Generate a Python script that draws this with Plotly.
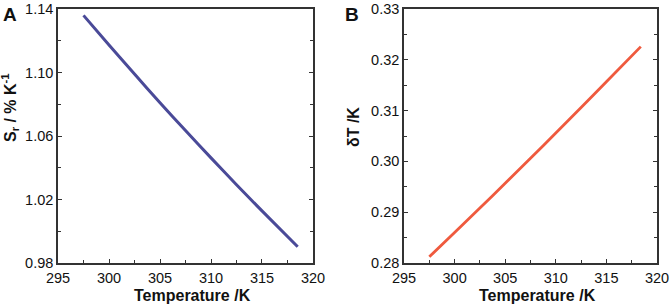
import plotly.graph_objects as go

temp_a = [297.5, 300.0, 302.5, 305.0, 307.5, 310.0, 312.5, 315.0, 318.5]
sr_vals = [1.136, 1.1173, 1.0990, 1.0810, 1.0634, 1.0462, 1.0293, 1.0128, 0.9902]

temp_b = [297.5, 300.0, 302.5, 305.0, 307.5, 310.0, 312.5, 315.0, 318.4]
dt_vals = [0.2812, 0.2860, 0.2908, 0.2957, 0.3006, 0.3056, 0.3106, 0.3157, 0.3226]

x_ticks = [295, 300, 305, 310, 315, 320]
ya_ticks = [0.98, 1.02, 1.06, 1.10, 1.14]
yb_ticks = [0.28, 0.29, 0.30, 0.31, 0.32, 0.33]

W, H = 671, 304
FONT = "Liberation Sans, Arial, sans-serif"
AX = "#333333"

def px(x):
    return x / W

def py(y):
    return (H - y) / H

fig = go.Figure()
fig.add_trace(go.Scatter(x=temp_a, y=sr_vals, mode="lines",
                         line=dict(color="#4a4a98", width=3.0, shape="spline", smoothing=0.6),
                         xaxis="x", yaxis="y", showlegend=False, hoverinfo="skip"))
fig.add_trace(go.Scatter(x=temp_b, y=dt_vals, mode="lines",
                         line=dict(color="#ef5a3e", width=2.8, shape="spline", smoothing=0.6),
                         xaxis="x2", yaxis="y2", showlegend=False, hoverinfo="skip"))

TICKFONT = dict(family=FONT, size=14.5, color="#111")

common_x = dict(range=[294.999, 320.001], tickvals=x_ticks, ticktext=[str(v) for v in x_ticks],
                ticks="inside", ticklen=4, tickwidth=1.2, tickcolor=AX,
                showline=True, linecolor=AX, linewidth=1.5, mirror=True,
                showgrid=False, zeroline=False, automargin=False,
                ticklabeloverflow="allow", ticklabelstandoff=1,
                tickfont=TICKFONT,
                minor=dict(ticks="inside", ticklen=3, dtick=2.5, tick0=295, tickcolor=AX, showgrid=False))

common_y = dict(ticks="inside", ticklen=4, tickwidth=1.2, tickcolor=AX,
                showline=True, linecolor=AX, linewidth=1.5, mirror="ticks",
                showgrid=False, zeroline=False, automargin=False,
                ticklabeloverflow="allow",
                tickfont=TICKFONT)

ydom = [py(263), py(9)]
fig.update_layout(
    width=W, height=H,
    margin=dict(l=0, r=0, t=0, b=0),
    paper_bgcolor="white", plot_bgcolor="white",
    xaxis=dict(domain=[px(58), px(313)], anchor="y", **common_x),
    yaxis=dict(domain=ydom, anchor="x", range=[0.97999, 1.14001], tickvals=ya_ticks,
               ticktext=["%.2f" % v for v in ya_ticks],
               minor=dict(ticks="inside", ticklen=3, dtick=0.02, tick0=0.98, tickcolor=AX, showgrid=False),
               **common_y),
    xaxis2=dict(domain=[px(404), px(657)], anchor="y2", **common_x),
    yaxis2=dict(domain=ydom, anchor="x2", range=[0.27999, 0.33001], tickvals=yb_ticks,
                ticktext=["%.2f" % v for v in yb_ticks],
                minor=dict(ticks="inside", ticklen=3, dtick=0.005, tick0=0.28, tickcolor=AX, showgrid=False),
                **common_y),
)

title_font = dict(family=FONT, size=16, color="#111")
anns = [
    dict(x=px(192), y=py(295), text="<b>Temperature /K</b>", font=title_font),
    dict(x=px(537), y=py(295), text="<b>Temperature /K</b>", font=title_font),
    dict(x=px(10), y=py(108), text="<b>S<sub>r</sub> / % K<sup>-1</sup></b>", font=title_font, textangle=-90),
    dict(x=px(353), y=py(127), text="<b>δT /K</b>", font=title_font, textangle=-90),
    dict(x=px(10), y=py(15), text="<b>A</b>", font=dict(family=FONT, size=19, color="#111")),
    dict(x=px(352), y=py(15), text="<b>B</b>", font=dict(family=FONT, size=19, color="#111")),
]
for a in anns:
    a.update(xref="paper", yref="paper", showarrow=False, xanchor="center", yanchor="middle")
    fig.add_annotation(**a)

fig.write_html("out.html", config={"displayModeBar": False},
               post_script="document.body.style.margin='0px';")
